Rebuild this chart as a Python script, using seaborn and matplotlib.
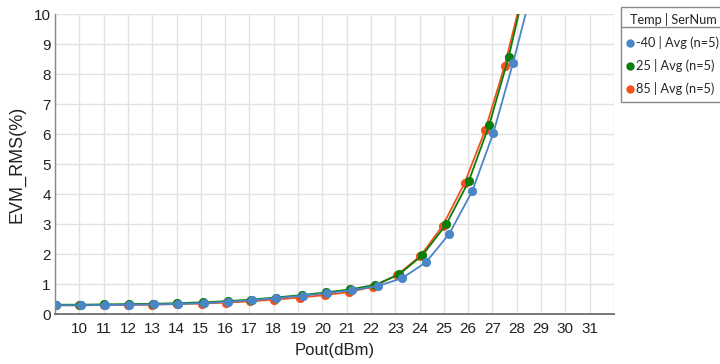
import matplotlib
matplotlib.use("Agg")
import matplotlib.pyplot as plt
import numpy as np
import pandas as pd
import seaborn as sns
from matplotlib.lines import Line2D

sns.set_style("white")
plt.rcParams["font.family"] = ["Liberation Sans", "DejaVu Sans"]

pout_m40 = [9.05, 10.05, 11.05, 12.06, 13.06, 14.06, 15.12, 16.13, 17.1, 18.1, 19.2,
            20.2, 21.2, 22.27, 23.27, 24.26, 25.22, 26.17, 27.03, 27.85, 28.65]
evm_m40 = [0.29, 0.29, 0.30, 0.31, 0.32, 0.34, 0.36, 0.41, 0.46, 0.53, 0.61,
           0.70, 0.79, 0.93, 1.19, 1.72, 2.67, 4.10, 6.02, 8.38, 10.9]

pout_25 = [9.03, 10.03, 11.03, 12.04, 13.04, 14.04, 15.1, 16.1, 17.08, 18.08, 19.15,
           20.15, 21.15, 22.17, 23.16, 24.12, 25.1, 26.02, 26.87, 27.67, 28.45]
evm_25 = [0.31, 0.31, 0.32, 0.33, 0.34, 0.36, 0.39, 0.43, 0.48, 0.55, 0.63,
          0.72, 0.82, 0.97, 1.32, 1.96, 2.99, 4.42, 6.31, 8.58, 11.3]

pout_85 = [9.0, 10.0, 11.0, 12.0, 13.0, 14.0, 15.05, 16.05, 17.03, 18.03, 19.1,
           20.1, 21.1, 22.1, 23.07, 24.03, 24.95, 25.85, 26.7, 27.5, 28.3]
evm_85 = [0.29, 0.29, 0.30, 0.30, 0.31, 0.33, 0.35, 0.38, 0.42, 0.48, 0.55,
          0.63, 0.73, 0.91, 1.30, 1.93, 2.94, 4.36, 6.13, 8.27, 10.9]

labels = ["-40 | Avg (n=5)", "25 | Avg (n=5)", "85 | Avg (n=5)"]
colors = ["#4a86c5", "#0a7d0a", "#f4511e"]
x_ticks = list(range(10, 32))
y_ticks = list(range(0, 11))

series = [(pout_m40, evm_m40), (pout_25, evm_25), (pout_85, evm_85)]

fig = plt.figure(figsize=(7.2, 3.64), dpi=100)
ax = fig.add_axes([55 / 720, 1 - 314 / 364, 559 / 720, 300 / 364])

# draw hottest first so the -40 trace sits on top, as in the reference
for i in [2, 1, 0]:
    df = pd.DataFrame({"Pout": series[i][0], "EVM": series[i][1]})
    sns.lineplot(data=df, x="Pout", y="EVM", ax=ax, color=colors[i], lw=1.3,
                 marker="o", markersize=6, markeredgewidth=0.6,
                 markeredgecolor=colors[i], sort=False, estimator=None)

ax.set_xlim(9, 32)
ax.set_ylim(0, 10)
ax.set_xticks(x_ticks)
ax.set_yticks(y_ticks)
ax.set_xticks(range(9, 33), minor=True)
ax.grid(True, which="both", axis="x", color="#e2e2e2", lw=1)
ax.grid(True, axis="y", color="#e2e2e2", lw=1)
ax.set_axisbelow(True)
ax.tick_params(axis="both", which="both", length=0, labelsize=11, colors="#222222")
ax.tick_params(axis="x", pad=6)
ax.tick_params(axis="y", pad=3)

for side in ["top", "right"]:
    ax.spines[side].set_visible(False)
ax.spines["left"].set_color("#888888")
ax.spines["left"].set_linewidth(1)
ax.spines["bottom"].set_color("#777777")
ax.spines["bottom"].set_linewidth(1.4)

ax.set_xlabel("Pout(dBm)", fontsize=12, labelpad=5, color="#222222")
ax.set_ylabel("EVM_RMS(%)", fontsize=13, labelpad=6, color="#222222")

handles = [Line2D([], [], ls="none", marker="o", markersize=5, color=c) for c in colors]
leg = ax.legend(handles, labels, title="Temp | SerNum", loc="upper left",
                bbox_to_anchor=(621 / 720, 1 - 7 / 364), bbox_transform=fig.transFigure,
                frameon=True, fancybox=False, edgecolor="#8a8a8a", framealpha=1,
                prop={"family": "Lato", "size": 9.2},
                title_fontproperties={"family": "Lato", "size": 9.2},
                handlelength=0.45, handletextpad=0.2, labelspacing=0.78,
                borderpad=0.5, borderaxespad=0, alignment="center")
leg.get_frame().set_linewidth(1)
fig.add_artist(Line2D([621 / 720, 1.0], [1 - 27 / 364, 1 - 27 / 364],
                      transform=fig.transFigure, color="#8a8a8a", lw=1))

fig.savefig("out.png", dpi=100)
